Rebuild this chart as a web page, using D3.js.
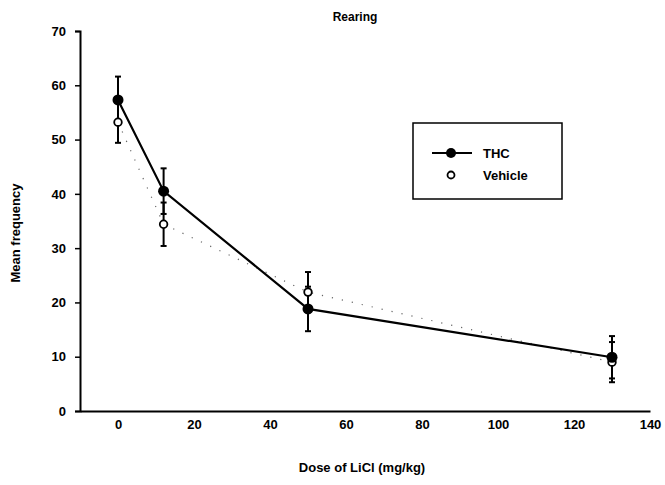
<!DOCTYPE html>
<html>
<head>
<meta charset="utf-8">
<script src="https://cdn.jsdelivr.net/npm/d3@7"></script>
<style>
  body { margin: 0; background: #fff; }
  text { font-family: "Liberation Sans", Arial, sans-serif; font-weight: bold; fill: #000; }
</style>
</head>
<body>
<svg width="665" height="485"></svg>
<script>
var svg = d3.select("svg"),
    width = +svg.attr("width"),
    height = +svg.attr("height");

// data
var doses = [0, 12, 50, 130];
var thcMean = [57.3, 40.5, 18.8, 9.9];
var thcErr = [4.3, 4.2, 4.1, 3.9];
var vehMean = [53.2, 34.4, 21.9, 9.0];
var vehErr = [3.8, 4.0, 3.7, 3.7];
var xTicks = [0, 20, 40, 60, 80, 100, 120, 140];
var yTicks = [0, 10, 20, 30, 40, 50, 60, 70];

var thc = doses.map((d, i) => ({x: d, y: thcMean[i], e: thcErr[i]}));
var veh = doses.map((d, i) => ({x: d, y: vehMean[i], e: vehErr[i]}));

var x = d3.scaleLinear().domain([-10, 140]).range([80, 650]);
var y = d3.scaleLinear().domain([0, 70]).range([411, 31]);

// axes
var yAxis = svg.append("g")
    .attr("transform", "translate(80,0)")
    .call(d3.axisLeft(y).tickValues(yTicks).tickSize(5).tickPadding(9));
var xAxis = svg.append("g")
    .attr("transform", "translate(0,411)")
    .call(d3.axisBottom(x).tickValues(xTicks).tickSize(0).tickPadding(9));

yAxis.select(".domain").attr("stroke", "#000").attr("stroke-width", 2);
xAxis.select(".domain").attr("stroke", "#000").attr("stroke-width", 2);
yAxis.selectAll(".tick line").attr("stroke-width", 1.5);
svg.selectAll(".tick text").attr("font-size", 13).attr("font-family", "Liberation Sans, Arial, sans-serif").attr("font-weight", "bold");

// titles
svg.append("text").attr("x", 355).attr("y", 21).attr("text-anchor", "middle")
    .attr("font-size", 12).text("Rearing");
svg.append("text").attr("x", 362).attr("y", 472).attr("text-anchor", "middle")
    .attr("font-size", 13).text("Dose of LiCl (mg/kg)");
svg.append("text").attr("transform", "translate(20,233) rotate(-90)")
    .attr("text-anchor", "middle").attr("font-size", 13).text("Mean frequency");

var line = d3.line().x(d => x(d.x)).y(d => y(d.y));

// vehicle dotted line
svg.append("path").datum(veh).attr("d", line)
    .attr("fill", "none").attr("stroke", "#666").attr("stroke-width", 1.2)
    .attr("stroke-dasharray", "1.2,9");

// THC solid line
svg.append("path").datum(thc).attr("d", line)
    .attr("fill", "none").attr("stroke", "#000").attr("stroke-width", 2.2);

// error bars
function errBars(data) {
    var g = svg.append("g");
    g.selectAll("line.v").data(data).enter().append("line")
        .attr("x1", d => x(d.x)).attr("x2", d => x(d.x))
        .attr("y1", d => y(d.y - d.e)).attr("y2", d => y(d.y + d.e))
        .attr("stroke", "#000").attr("stroke-width", 2);
    [-1, 1].forEach(function (s) {
        g.selectAll("line.c" + s).data(data).enter().append("line")
            .attr("x1", d => x(d.x) - 3).attr("x2", d => x(d.x) + 3)
            .attr("y1", d => y(d.y + s * d.e)).attr("y2", d => y(d.y + s * d.e))
            .attr("stroke", "#000").attr("stroke-width", 2);
    });
}
errBars(veh);
errBars(thc);

svg.append("g").selectAll("circle").data(veh).enter().append("circle")
    .attr("cx", d => x(d.x)).attr("cy", d => y(d.y)).attr("r", 3.8)
    .attr("fill", "#fff").attr("stroke", "#000").attr("stroke-width", 1.8);
svg.append("g").selectAll("circle").data(thc).enter().append("circle")
    .attr("cx", d => x(d.x)).attr("cy", d => y(d.y)).attr("r", 5.5)
    .attr("fill", "#000");

// legend
var lg = svg.append("g");
lg.append("rect").attr("x", 413).attr("y", 123).attr("width", 149).attr("height", 76)
    .attr("fill", "#fff").attr("stroke", "#000").attr("stroke-width", 1.5);
lg.append("line").attr("x1", 432).attr("x2", 472).attr("y1", 153).attr("y2", 153)
    .attr("stroke", "#000").attr("stroke-width", 2);
lg.append("circle").attr("cx", 451).attr("cy", 153).attr("r", 5).attr("fill", "#000");
lg.append("text").attr("x", 483).attr("y", 158).attr("font-size", 13).text("THC");
lg.append("circle").attr("cx", 451).attr("cy", 175).attr("r", 3.5)
    .attr("fill", "#fff").attr("stroke", "#000").attr("stroke-width", 1.8);
lg.append("text").attr("x", 483).attr("y", 180).attr("font-size", 13).text("Vehicle");
</script>
</body>
</html>
